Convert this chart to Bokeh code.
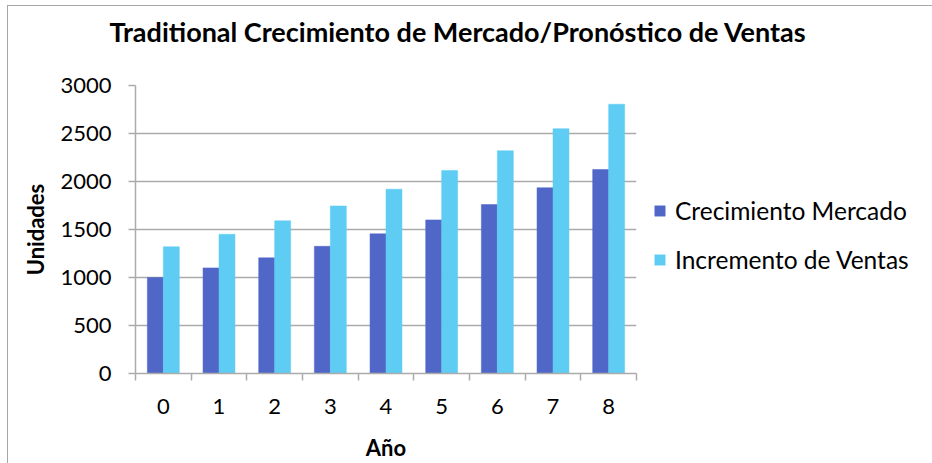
from bokeh.plotting import figure
from bokeh.models import Range1d, FixedTicker, Legend, LegendItem, ColumnDataSource
from bokeh.transform import dodge
from bokeh.embed import file_html
from bokeh.resources import INLINE

anios = ["0", "1", "2", "3", "4", "5", "6", "7", "8"]
crecimiento_mercado = [1000, 1100, 1205, 1325, 1455, 1600, 1760, 1935, 2125]
incremento_ventas = [1320, 1450, 1590, 1745, 1920, 2115, 2320, 2550, 2805]
y_ticks = [0, 500, 1000, 1500, 2000, 2500, 3000]
serie_nombres = ["Crecimiento Mercado", "Incremento de Ventas"]
titulo = "Traditional Crecimiento de Mercado/Pronóstico de Ventas"

FONT = "Lato"
DARK = "#5067C8"
LIGHT = "#5ECCF3"
GRID = "#ABABAB"

p = figure(frame_width=501, frame_height=288, output_backend="svg", toolbar_location=None,
           x_range=Range1d(-0.5, len(anios) - 0.5), y_range=Range1d(0, 3000),
           min_border_left=127, min_border_right=285, min_border_top=79, min_border_bottom=80)
p.outline_line_color = None
p.background_fill_color = "white"
p.border_fill_color = "white"
p.styles = {"border-left": "1px solid #A6A6A6", "border-top": "1px solid #A6A6A6",
            "margin-left": "7px", "margin-top": "5px"}

p.title.text = titulo
p.title.text_font = FONT
p.title.text_font_style = "bold"
p.title.text_font_size = "27px"
p.title.text_color = "black"
p.title.align = "left"
p.title.offset = -26
try:
    p.title.padding = dict(left=0, right=0, top=0, bottom=38)
except Exception:
    p.title.padding = (0, 0, 38, 0)
p.title.standoff = 0

source = ColumnDataSource(dict(x=list(range(len(anios))), cm=crecimiento_mercado, iv=incremento_ventas))
r1 = p.vbar(x=dodge('x', -0.1435, range=p.x_range), top='cm', width=0.287, bottom=0,
            source=source, fill_color=DARK, line_color=DARK, line_width=0.5)
r2 = p.vbar(x=dodge('x', 0.1435, range=p.x_range), top='iv', width=0.287, bottom=0,
            source=source, fill_color=LIGHT, line_color=LIGHT, line_width=0.5)

# axes
xa = p.xaxis[0]
xa.ticker = FixedTicker(ticks=list(range(len(anios))), minor_ticks=[i - 0.5 for i in range(len(anios) + 1)])
xa.major_label_overrides = {i: a for i, a in enumerate(anios)}
xa.major_tick_out = 0
xa.major_tick_in = 0
xa.minor_tick_out = 7
xa.minor_tick_in = 0
xa.minor_tick_line_color = GRID
xa.minor_tick_line_width = 1.5
xa.axis_line_color = GRID
xa.axis_line_width = 1.5
xa.major_label_standoff = 18
xa.major_label_text_font = FONT
xa.major_label_text_font_size = "22px"
xa.major_label_text_color = "black"
xa.axis_label = "Año"
xa.axis_label_text_font = FONT
xa.axis_label_text_font_style = "bold"
xa.axis_label_text_font_size = "22px"
xa.axis_label_text_color = "black"
xa.axis_label_standoff = 17

ya = p.yaxis[0]
ya.ticker = FixedTicker(ticks=y_ticks)
ya.minor_tick_line_color = None
ya.major_tick_out = 7
ya.major_tick_in = 0
ya.major_tick_line_color = GRID
ya.major_tick_line_width = 1.5
ya.axis_line_color = GRID
ya.axis_line_width = 1.5
ya.major_label_standoff = 17
ya.major_label_text_font = FONT
ya.major_label_text_font_size = "22px"
ya.major_label_text_color = "black"
ya.axis_label = "Unidades"
ya.axis_label_text_font = FONT
ya.axis_label_text_font_style = "bold"
ya.axis_label_text_font_size = "22px"
ya.axis_label_text_color = "black"
ya.axis_label_standoff = 8

p.xgrid.grid_line_color = None
p.ygrid.ticker = FixedTicker(ticks=y_ticks)
p.ygrid.grid_line_color = GRID
p.ygrid.grid_line_width = 1.5

legend = Legend(items=[LegendItem(label=serie_nombres[0], renderers=[r1]),
                       LegendItem(label=serie_nombres[1], renderers=[r2])],
                location=(17, 99), orientation="vertical")
legend.border_line_color = None
legend.background_fill_alpha = 0
legend.margin = 0
legend.padding = 0
legend.glyph_width = 13
legend.glyph_height = 13
legend.label_standoff = 9
legend.spacing = 20
legend.label_text_font = FONT
legend.label_text_font_size = "24.5px"
legend.label_text_color = "black"
p.add_layout(legend, "right")

open("out.html", "w").write(file_html(p, INLINE))
